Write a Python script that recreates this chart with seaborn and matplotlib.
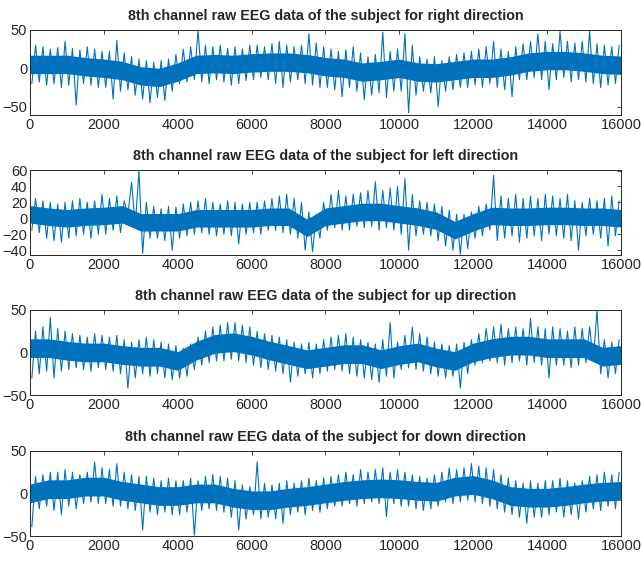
import numpy as np
import pandas as pd
import seaborn as sns
import matplotlib
matplotlib.use("Agg")
import matplotlib.pyplot as plt

# Channel 8, raw EEG, four directions
directions = ['right', 'left', 'up', 'down']
n_samples = 16000
base_step = 500   # baseline read every 500 samples
bin_step = 200    # local min / max read every 200 samples

# slow baseline of each trace
right_base = [5, 5, 5, 2, 0, -3, -10, -12, -5, 5, 6, 5, 7, 8, 8, 6, 2,
              0, -5, -3, 0, -5, -6, -3, 0, 0, 3, 8, 10, 10, 8, 5, 4]
left_base = [5, 2, 0, 2, 3, 5, -5, -5, -5, 0, 0, 0, 0, 2, 2, -12, 2,
             5, 8, 8, 5, 2, -3, -15, -5, 3, 2, 2, 3, 3, 2, 2, 0]
up_base = [5, 5, 2, 0, 0, -3, -5, -5, -10, 2, 10, 12, 8, 2, -3, -8, -5,
           -2, -2, -8, -3, 0, -6, -10, 0, 5, 8, 8, 5, 5, 5, -5, -3]
down_base = [0, 5, 5, 8, 8, 3, 0, -3, -3, 0, 0, -5, -8, -8, -5, -3, 0,
             3, 5, 6, 5, 3, 2, 8, 10, 5, -3, -5, -5, -3, 0, 2, 3]
core_width = [12, 11, 11, 11]

# local maxima / minima, one row per 2000 samples
right_hi = [30, 28, 25, 27, 35, 26, 24, 28, 25, 22,
            22, 36, 20, 15, 12, 10, 8, 10, 12, 18,
            25, 28, 50, 30, 28, 30, 26, 28, 25, 30,
            30, 28, 32, 35, 30, 28, 30, 45, 33, 28,
            25, 22, 24, 28, 20, 15, 18, 47, 22, 25,
            45, 30, 15, 12, 15, 10, 15, 18, 20, 22,
            25, 28, 35, 25, 22, 28, 32, 35, 45, 35,
            32, 48, 35, 33, 35, 48, 32, 30, 28, 30]
right_lo = [-20, -18, -22, -20, -25, -22, -48, -20, -22, -25,
            -25, -40, -30, -28, -35, -40, -45, -38, -42, -30,
            -20, -18, -15, -18, -20, -15, -18, -22, -20, -16,
            -15, -12, -15, -20, -25, -18, -15, -20, -22, -25,
            -25, -28, -37, -25, -30, -41, -35, -32, -38, -30,
            -30, -58, -35, -30, -32, -50, -30, -28, -25, -25,
            -22, -25, -20, -25, -28, -37, -15, -15, -12, -15,
            -28, -15, -12, -18, -15, -18, -20, -25, -22, -20]

left_hi = [25, 22, 20, 18, 20, 22, 25, 20, 22, 30,
           25, 28, 22, 45, 60, 20, 15, 12, 15, 14,
           18, 20, 22, 25, 20, 18, 22, 20, 18, 20,
           20, 22, 25, 28, 30, 25, 20, 8, 5, 20,
           30, 35, 28, 30, 32, 35, 46, 35, 38, 40,
           50, 30, 22, 20, 18, 15, 10, 5, 5, 8,
           15, 18, 54, 28, 25, 30, 25, 28, 25, 30,
           28, 25, 30, 22, 20, 25, 22, 25, 28, 22]
left_lo = [-15, -18, -25, -28, -30, -25, -22, -20, -25, -20,
           -20, -15, -18, 5, -10, -44, -25, -25, -28, -40,
           -25, -22, -20, -18, -20, -22, -20, -22, -32, -20,
           -18, -20, -15, -15, -18, -20, -25, -40, -42, -25,
           -15, -12, -15, -15, -10, -12, -10, -15, -12, -15,
           -20, -40, -22, -20, -22, -28, -35, -40, -45, -38,
           -25, -22, -15, -28, -25, -22, -30, -25, -22, -28,
           -20, -22, -25, -28, -40, -22, -20, -25, -35, -22]

up_hi = [25, 30, 41, 28, 25, 22, 20, 18, 22, 20,
         18, 20, 15, 12, 15, 18, 15, 12, 10, 8,
         5, 10, 18, 25, 30, 32, 35, 35, 32, 30,
         25, 22, 20, 18, 15, 12, 10, 12, 10, 15,
         18, 20, 22, 18, 15, 12, 10, 15, 35, 12,
         20, 30, 22, 18, 12, 10, 8, 10, 12, 15,
         22, 28, 30, 33, 28, 30, 28, 40, 30, 28,
         30, 28, 25, 30, 28, 30, 50, 15, 12, 15]
up_lo = [-30, -25, -22, -30, -22, -20, -18, -20, -22, -18,
         -20, -22, -25, -42, -30, -25, -28, -25, -30, -32,
         -30, -28, -20, -15, -12, -10, -10, -8, -10, -12,
         -15, -18, -20, -22, -25, -35, -28, -25, -30, -25,
         -22, -20, -22, -25, -28, -30, -32, -35, -28, -30,
         -20, -18, -20, -22, -25, -28, -30, -28, -42, -25,
         -15, -12, -10, -12, -15, -12, -10, -15, -12, -15,
         -30, -15, -15, -18, -15, -12, -10, -25, -30, -25]

down_hi = [20, 22, 25, 25, 28, 25, 22, 25, 37, 30,
           28, 35, 25, 22, 20, 20, 18, 15, 18, 15,
           15, 18, 15, 20, 22, 20, 18, 15, 10, 8,
           37, 12, 10, 12, 15, 12, 15, 18, 15, 18,
           20, 22, 25, 22, 28, 25, 28, 30, 25, 28,
           25, 22, 20, 18, 22, 25, 30, 28, 30, 35,
           32, 30, 28, 22, 18, 15, 12, 15, 12, 15,
           15, 18, 15, 12, 15, 20, 22, 25, 22, 25]
down_lo = [-39, -18, -15, -20, -25, -15, -18, -12, -10, -12,
           -12, -15, -15, -18, -20, -43, -22, -25, -22, -25,
           -25, -22, -49, -20, -18, -20, -22, -28, -43, -30,
           -25, -30, -28, -30, -35, -25, -22, -25, -20, -22,
           -18, -15, -15, -12, -15, -12, -10, -12, -27, -12,
           -15, -15, -18, -20, -18, -15, -10, -12, -10, -8,
           -10, -12, -15, -18, -22, -25, -28, -35, -28, -28,
           -25, -22, -28, -25, -30, -22, -18, -20, -15, -18]

bases = [right_base, left_base, up_base, down_base]
highs = [right_hi, left_hi, up_hi, down_hi]
lows = [right_lo, left_lo, up_lo, down_lo]
y_limits = [(-61, 50), (-46, 61), (-50, 50), (-50, 50)]
y_ticks = [[-50, 0, 50], [-40, -20, 0, 20, 40, 60], [-50, 0, 50], [-50, 0, 50]]

line_color = '#0072BD'

sns.set_style("white")
plt.rcParams['font.family'] = ['Liberation Sans', 'DejaVu Sans']

fig = plt.figure(figsize=(6.41, 5.64), dpi=100)
bottoms = [0.796, 0.548, 0.2996, 0.0496]

for k, name in enumerate(directions):
    ax = fig.add_axes([0.0468, bottoms[k], 0.922, 0.151])

    base = np.array(bases[k], dtype=float)
    base_x = np.arange(len(base)) * base_step
    ax.fill_between(base_x, base - core_width[k], base + core_width[k],
                    color=line_color, lw=0, zorder=2)

    # zig-zag between the local min and max of every bin
    starts = np.arange(len(highs[k])) * bin_step
    zx = np.column_stack([starts + bin_step * 0.25, starts + bin_step * 0.75]).ravel()
    zy = np.column_stack([lows[k], highs[k]]).ravel()
    df = pd.DataFrame({'sample': zx, 'value': zy})
    sns.lineplot(data=df, x='sample', y='value', ax=ax, color=line_color,
                 lw=0.8, estimator=None, sort=False, zorder=3)

    ax.set_xlim(0, n_samples)
    ax.set_ylim(*y_limits[k])
    ax.set_xticks(np.arange(0, n_samples + 1, 2000))
    ax.set_yticks(y_ticks[k])
    ax.set_xlabel('')
    ax.set_ylabel('')
    ax.tick_params(direction='in', top=True, right=True, length=3,
                   width=0.6, labelsize=10.5, colors='#262626', pad=2)
    for sp in ax.spines.values():
        sp.set_visible(True)
        sp.set_color('#262626')
        sp.set_linewidth(0.7)
    ax.set_title(f'8th channel raw EEG data of the subject for {name} direction',
                 fontsize=10.3, fontweight='bold', pad=7)

fig.savefig('out.png', dpi=100)
